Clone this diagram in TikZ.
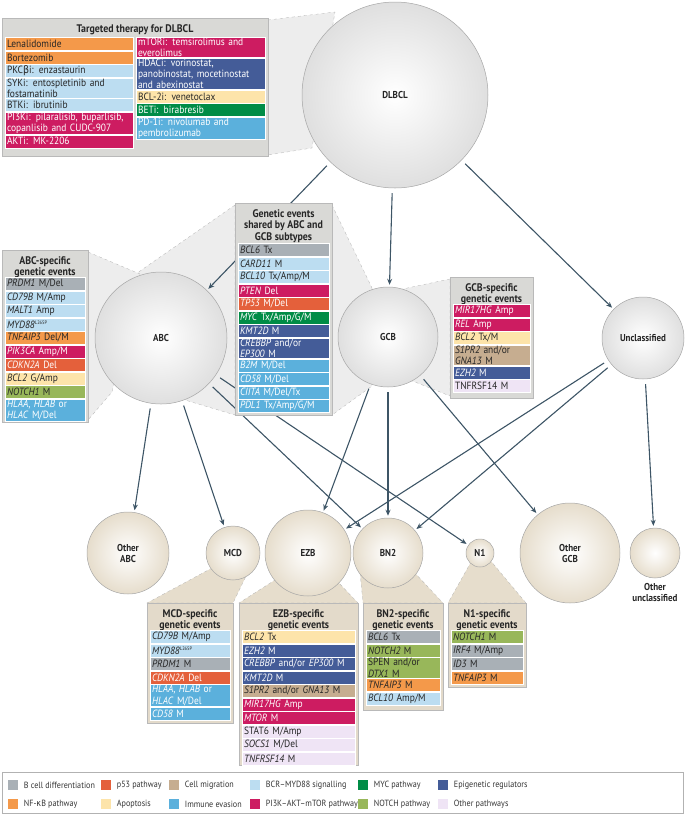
\documentclass[tikz,border=0pt]{standalone}
\usepackage{fontspec}
\setmainfont{PT Sans}[FakeStretch=0.9]
\newfontfamily\grk{DejaVu Sans}[FakeStretch=0.9]
\usetikzlibrary{arrows.meta,positioning}

\definecolor{colBC}{HTML}{A9B0B6}
\definecolor{colPF}{HTML}{E4603B}
\definecolor{colMG}{HTML}{C6AD90}
\definecolor{colBCR}{HTML}{BCDDF1}
\definecolor{colMYC}{HTML}{008C46}
\definecolor{colEPI}{HTML}{445C98}
\definecolor{colNFK}{HTML}{F4994A}
\definecolor{colAPO}{HTML}{FDE4AA}
\definecolor{colIMM}{HTML}{5BB0DC}
\definecolor{colPIK}{HTML}{CD1C61}
\definecolor{colNOT}{HTML}{98B75A}
\definecolor{colOTH}{HTML}{EFE4F5}
\definecolor{colArr}{HTML}{3D5566}
\definecolor{colGreyBox}{HTML}{D9D9D6}
\definecolor{colBeigeBox}{HTML}{E3DACA}
\definecolor{colBeige}{HTML}{E6DDCC}

\newcommand\g[1]{\textit{#1}}
\newcommand\evfont{\fontsize{10.5}{11.5}\selectfont}

\tikzset{
  cbc/.style={fill=colBC,text=black!85},
  cpf/.style={fill=colPF,text=white},
  cmg/.style={fill=colMG,text=black!85},
  cbcr/.style={fill=colBCR,text=black!85},
  cmyc/.style={fill=colMYC,text=white},
  cepi/.style={fill=colEPI,text=white},
  cnfk/.style={fill=colNFK,text=black!85},
  capo/.style={fill=colAPO,text=black!85},
  cimm/.style={fill=colIMM,text=white},
  cpik/.style={fill=colPIK,text=white},
  cnot/.style={fill=colNOT,text=black!85},
  coth/.style={fill=colOTH,text=black!85},
  evrow/.style={text width=#1, inner xsep=2pt, inner ysep=0.8pt, minimum height=13pt,
    draw=white, line width=0.5pt, align=left, font=\evfont, anchor=north west},
  evbox/.style={draw=gray!55, fill=#1, line width=0.8pt},
  evtitle/.style={font=\bfseries\fontsize{11}{11.5}\selectfont, align=center, anchor=north, text=black!85},
  subtype/.style={circle, draw=gray!70, line width=0.5pt, inner color=white, outer color=#1,
    font=\bfseries\fontsize{10}{11}\selectfont, align=center, text=black!85},
  cone/.style={fill=#1, draw=gray!60, dashed, line width=0.3pt},
  flow/.style={draw=colArr, line width=1.1pt, -{Stealth[length=6pt,width=5pt]},
    shorten <=5pt, shorten >=2pt}
}

% list of genetic events below a start point
\newcommand\evlist[4]{%
  \node[inner sep=0pt, minimum size=0pt] (#1-0) at #2 {};
  \foreach \s/\t [count=\i] in {#4} {
    \pgfmathtruncatemacro\j{\i-1}
    \node[evrow=#3, \s] (#1-\i) at (#1-\j.south west) {\t};
  }%
}

\begin{document}
\begin{tikzpicture}[x=1pt, y=-1pt]
  \useasboundingbox (0,0) rectangle (685,815);

  % zoom cones
  \fill[cone=gray!14] (268,20) -- (335,12) -- (312,148) -- (268,155) -- cycle;
  \fill[cone=gray!14] (235,205) -- (130,278) -- (185,400) -- (235,415) -- cycle;
  \fill[cone=gray!14] (332,205) -- (372,288) -- (372,386) -- (332,415) -- cycle;
  \fill[cone=gray!14] (88,252) -- (140,274) -- (112,392) -- (88,420) -- cycle;
  \fill[cone=gray!14] (450,279) -- (398,290) -- (410,380) -- (450,396) -- cycle;
  \fill[cone=colBeige] (212,568) -- (248,572) -- (233,603) -- (147,603) -- cycle;
  \fill[cone=colBeige] (275,580) -- (338,582) -- (358,603) -- (239,603) -- cycle;
  \fill[cone=colBeige] (360,572) -- (414,572) -- (443,603) -- (363,603) -- cycle;
  \fill[cone=colBeige] (471,562) -- (490,560) -- (526,603) -- (448,603) -- cycle;

  % subtypes
  \node[subtype=gray!25, minimum size=186pt] (dlbcl) at (395,95) {DLBCL};
  \node[subtype=gray!25, minimum size=132pt] (abc) at (161,338) {ABC};
  \node[subtype=gray!25, minimum size=100pt] (gcb) at (388,337) {GCB};
  \node[subtype=gray!25, minimum size=82pt] (uncl) at (643,338) {Unclassified};
  \node[subtype=colBeige, minimum size=82pt] (oabc) at (128,553) {Other\\ABC};
  \node[subtype=colBeige, minimum size=54pt] (mcd) at (233,553) {MCD};
  \node[subtype=colBeige, minimum size=86pt] (ezb) at (308,553) {EZB};
  \node[subtype=colBeige, minimum size=70pt] (bn2) at (388,553) {BN2};
  \node[subtype=colBeige, minimum size=28pt, inner sep=0pt] (n1) at (480,553) {N1};
  \node[subtype=colBeige, minimum size=100pt] (ogcb) at (570,553) {Other\\GCB};
  \node[subtype=colBeige, minimum size=50pt] (ounc) at (655,553) {};
  \node[font=\bfseries\fontsize{10}{11}\selectfont, align=center, text=black!85,
    below=2pt of ounc] (ounclab) {Other\\unclassified};

  % arrows
  \foreach \a/\b in {dlbcl/abc, dlbcl/gcb, dlbcl/uncl, abc/oabc, abc/mcd, abc/bn2, abc/n1,
      gcb/ezb, gcb/bn2, gcb/ogcb, uncl/ezb, uncl/bn2, uncl/ounc}
    \draw[flow] (\a) -- (\b);

  % targeted therapy
  \filldraw[evbox=colGreyBox] (2,18) rectangle (268,156);
  \node[evtitle] (thtitle) at (135,21) {Targeted therapy for DLBCL};
  \begin{scope}[evrow/.append style={font=\fontsize{10.5}{11}\selectfont, minimum height=13pt}]
  \evlist{thl}{(5,37)}{124pt}{cnfk/Lenalidomide, cnfk/Bortezomib,
    cbcr/{PKC{\grk β}i: enzastaurin}, cbcr/{SYKi: entospletinib and\\fostamatinib},
    cbcr/{BTKi: ibrutinib}, cpik/{PI3Ki: pilaralisib, buparlisib,\\copanlisib and CUDC-907},
    cpik/{AKTi: MK-2206}}
  \evlist{thr}{(136,37)}{125pt}{cpik/{mTORi: temsirolimus and\\everolimus},
    cepi/{HDACi: vorinostat,\\panobinostat, mocetinostat\\and abexinostat},
    capo/{BCL-2i: venetoclax}, cmyc/{BETi: birabresib},
    cimm/{PD-1i: nivolumab and\\pembrolizumab}}
  \end{scope}

  % shared events
  \filldraw[evbox=colGreyBox] (235,203) rectangle (332,415);
  \node[evtitle] (shtitle) at (283.5,206) {Genetic events\\shared by ABC and\\GCB subtypes};
  \evlist{sh}{(238,243)}{87pt}{cbc/{\g{BCL6} Tx}, cbcr/{\g{CARD11} M}, cbcr/{\g{BCL10} Tx/Amp/M},
    cpik/{\g{PTEN} Del}, cpf/{\g{TP53} M/Del}, cmyc/{\g{MYC} Tx/Amp/G/M}, cepi/{\g{KMT2D} M},
    cepi/{\g{CREBBP} and/or\\\g{EP300} M}, cimm/{\g{B2M} M/Del}, cimm/{\g{CD58} M/Del},
    cimm/{\g{CIITA} M/Del/Tx}, cimm/{\g{PDL1} Tx/Amp/G/M}}

  % ABC-specific
  \filldraw[evbox=colGreyBox] (2,250) rectangle (88,422);
  \node[evtitle] (abctitle) at (45,253) {ABC-specific\\genetic events};
  \evlist{abcl}{(5,277)}{76pt}{cbc/{\g{PRDM1} M/Del}, cbcr/{\g{CD79B} M/Amp}, cbcr/{\g{MALT1} Amp},
    cbcr/{\g{MYD88}\textsuperscript{\tiny L265P}}, cnfk/{\g{TNFAIP3} Del/M}, cpik/{\g{PIK3CA} Amp/M},
    cpf/{\g{CDKN2A} Del}, capo/{\g{BCL2} G/Amp}, cnot/{\g{NOTCH1} M},
    cimm/{\g{HLAA}, \g{HLAB} or\\\g{HLAC} M/Del}}

  % GCB-specific
  \filldraw[evbox=colGreyBox] (450,277) rectangle (533,398);
  \node[evtitle] (gcbtitle) at (491.5,280) {GCB-specific\\genetic events};
  \evlist{gcbl}{(453,304)}{73pt}{cpik/{\g{MIR17HG} Amp}, cpik/{\g{REL} Amp}, capo/{\g{BCL2} Tx/M},
    cmg/{\g{S1PR2} and/or\\\g{GNA13} M}, cepi/{\g{EZH2} M}, coth/{TNFRSF14 M}}

  % MCD-specific
  \filldraw[evbox=colBeigeBox] (147,603) rectangle (233,723);
  \node[evtitle] (mcdtitle) at (190,606) {MCD-specific\\genetic events};
  \evlist{mcdl}{(150,630)}{76pt}{cbcr/{\g{CD79B} M/Amp}, cbcr/{\g{MYD88}\textsuperscript{\tiny L265P}},
    cbc/{\g{PRDM1} M}, cpf/{\g{CDKN2A} Del}, cimm/{\g{HLAA}, \g{HLAB} or\\\g{HLAC} M/Del},
    cimm/{\g{CD58} M}}

  % EZB-specific
  \filldraw[evbox=colBeigeBox] (239,603) rectangle (358,765);
  \node[evtitle] (ezbtitle) at (298.5,606) {EZB-specific\\genetic events};
  \evlist{ezbl}{(242,630)}{109pt}{capo/{\g{BCL2} Tx}, cepi/{\g{EZH2} M},
    cepi/{\g{CREBBP} and/or \g{EP300} M}, cepi/{\g{KMT2D} M}, cmg/{\g{S1PR2} and/or \g{GNA13} M},
    cpik/{\g{MIR17HG} Amp}, cpik/{\g{MTOR} M}, coth/{STAT6 M/Amp}, coth/{\g{SOCS1} M/Del},
    coth/{\g{TNFRSF14} M}}

  % BN2-specific
  \filldraw[evbox=colBeigeBox] (363,603) rectangle (443,710);
  \node[evtitle] (bntitle) at (403,606) {BN2-specific\\genetic events};
  \evlist{bnl}{(366,630)}{70pt}{cbc/{\g{BCL6} Tx}, cnot/{\g{NOTCH2} M}, cnot/{SPEN and/or\\\g{DTX1} M},
    cnfk/{\g{TNFAIP3} M}, cbcr/{\g{BCL10} Amp/M}}

  % N1-specific
  \filldraw[evbox=colBeigeBox] (448,603) rectangle (526,687);
  \node[evtitle] (n1title) at (487,606) {N1-specific\\genetic events};
  \evlist{n1l}{(451,630)}{68pt}{cnot/{\g{NOTCH1} M}, cbc/{\g{IRF4} M/Amp}, cbc/{\g{ID3} M},
    cnfk/{\g{TNFAIP3} M}}

  % legend
  \draw[gray!60, line width=0.6pt] (2,772) rectangle (683,813);
  \foreach \s/\t/\x/\y in {cbc/B cell differentiation/5/785, cpf/p53 pathway/98/785,
      cmg/Cell migration/166/785, cbcr/BCR–MYD88 signalling/247/785, cmyc/MYC pathway/355/785,
      cepi/Epigenetic regulators/435/785, cnfk/NF-{\grk κ}B pathway/5/804, capo/Apoptosis/98/804,
      cimm/Immune evasion/166/804, cpik/PI3K–AKT–mTOR pathway/247/804, cnot/NOTCH pathway/355/804,
      coth/Other pathways/435/804}
    \node[\s, minimum size=10pt, inner sep=0pt, anchor=west,
      label={[font=\fontsize{9}{10}\selectfont, text=black!80, xshift=2pt]east:\t}] at (\x+3,\y) {};
\end{tikzpicture}
\end{document}
